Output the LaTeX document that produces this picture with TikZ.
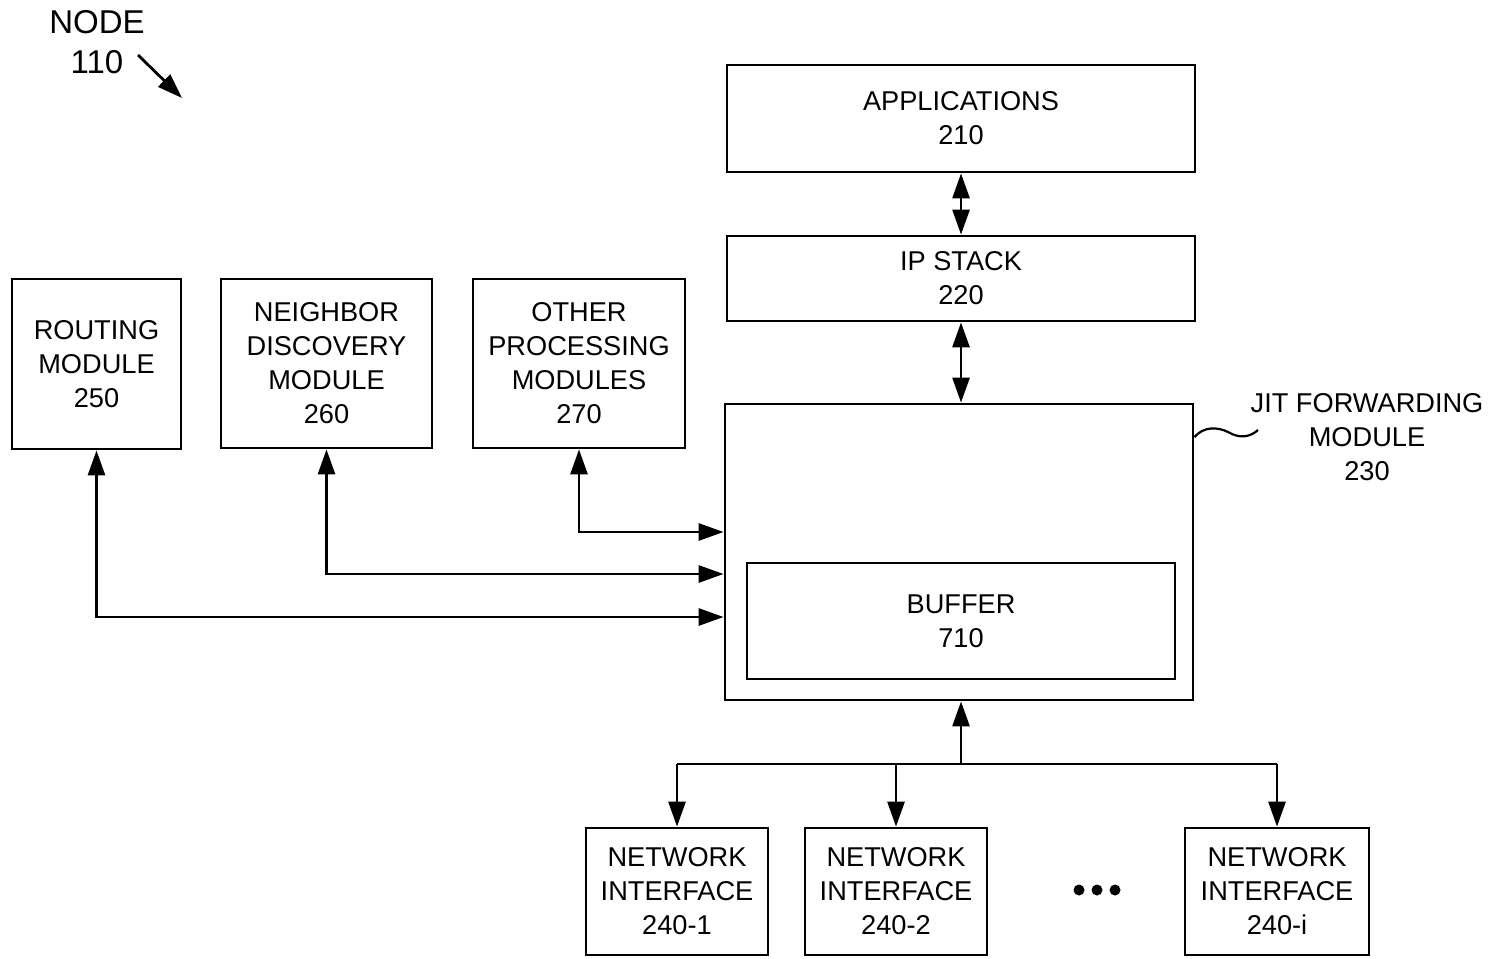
\documentclass[tikz,border=0pt]{standalone}
\usepackage{fontspec}
\setmainfont{Liberation Sans}
\usetikzlibrary{arrows.meta}
\tikzset{
  box/.style={draw, line width=1.4pt, inner sep=0pt, align=center,
    font=\fontsize{13.6}{17}\selectfont},
  link/.style={line width=1.4pt},
  tip/.style={link, -{Triangle[length=12.5pt,width=8.5pt]}},
  both/.style={link, {Triangle[length=12.5pt,width=8.5pt]}-{Triangle[length=12.5pt,width=8.5pt]}},
  lbl/.style={align=center, inner sep=0pt, font=\fontsize{13.6}{17}\selectfont},
}
\begin{document}
\begin{tikzpicture}[x=0.5pt,y=-0.5pt]
\useasboundingbox (0,0) rectangle (1492,958);

% upper stack
\node[box, minimum width=234pt, minimum height=53.5pt] (app) at (961,118.5) {APPLICATIONS\\210};
\node[box, minimum width=234pt, minimum height=42.5pt] (ip) at (961,278.5) {IP STACK\\220};
\node[box, minimum width=234pt, minimum height=148pt] (jit) at (959,552) {};
\node[box, minimum width=214pt, minimum height=58pt] (buf) at (961,621) {BUFFER\\710};

% processing modules
\node[box, minimum width=84.5pt, minimum height=85pt] (rout) at (96.5,364) {ROUTING\\MODULE\\250};
\node[box, minimum width=105.5pt, minimum height=84.5pt] (nbr) at (326.5,363.5) {NEIGHBOR\\DISCOVERY\\MODULE\\260};
\node[box, minimum width=106pt, minimum height=84.5pt] (oth) at (579,363.5) {OTHER\\PROCESSING\\MODULES\\270};

% network interfaces
\node[box, minimum width=91pt, minimum height=63.5pt] (ni1) at (677,891.5) {NETWORK\\INTERFACE\\240-1};
\node[box, minimum width=91pt, minimum height=63.5pt] (ni2) at (896,891.5) {NETWORK\\INTERFACE\\240-2};
\node[box, minimum width=92pt, minimum height=63.5pt] (nii) at (1277,891.5) {NETWORK\\INTERFACE\\240-i};
\foreach \x in {1079,1097,1115} \fill (\x,890) circle (5.5);

% labels
\node[lbl, font=\fontsize{16.5}{20}\selectfont] (nodelbl) at (97,42) {NODE\\110};
\coordinate (nodetail) at (138,55);
\coordinate (nodetip) at (182,98);
\draw[tip] (nodetail) -- (nodetip);
\node[lbl] (jitlbl) at (1367,437) {JIT FORWARDING\\MODULE\\230};
\coordinate (sq) at (0,437);
\draw[line width=1.1pt] (jit.east |- sq) .. controls (1204,426) and (1218,427) .. (1228,432)
  .. controls (1240,439) and (1250,437) .. (1258,430);

% vertical links of the stack
\draw[both] (app.south) -- (ip.north);
\draw[both] (ip.south) -- (ip.south |- jit.north);

% module links into the forwarding module
\coordinate (yo) at (0,532);
\coordinate (yn) at (0,574);
\coordinate (yr) at (0,617);
\draw[both] (oth.south) |- (jit.west |- yo);
\draw[both] (nbr.south) |- (jit.west |- yn);
\draw[both] (rout.south) |- (jit.west |- yr);

% interface bus
\coordinate (bus) at (961,764);
\draw[tip] (bus) -- (bus |- jit.south);
\draw[link] (ni1.north |- bus) -- (nii.north |- bus);
\draw[tip] (ni1.north |- bus) -- (ni1.north);
\draw[tip] (ni2.north |- bus) -- (ni2.north);
\draw[tip] (nii.north |- bus) -- (nii.north);
\end{tikzpicture}
\end{document}
